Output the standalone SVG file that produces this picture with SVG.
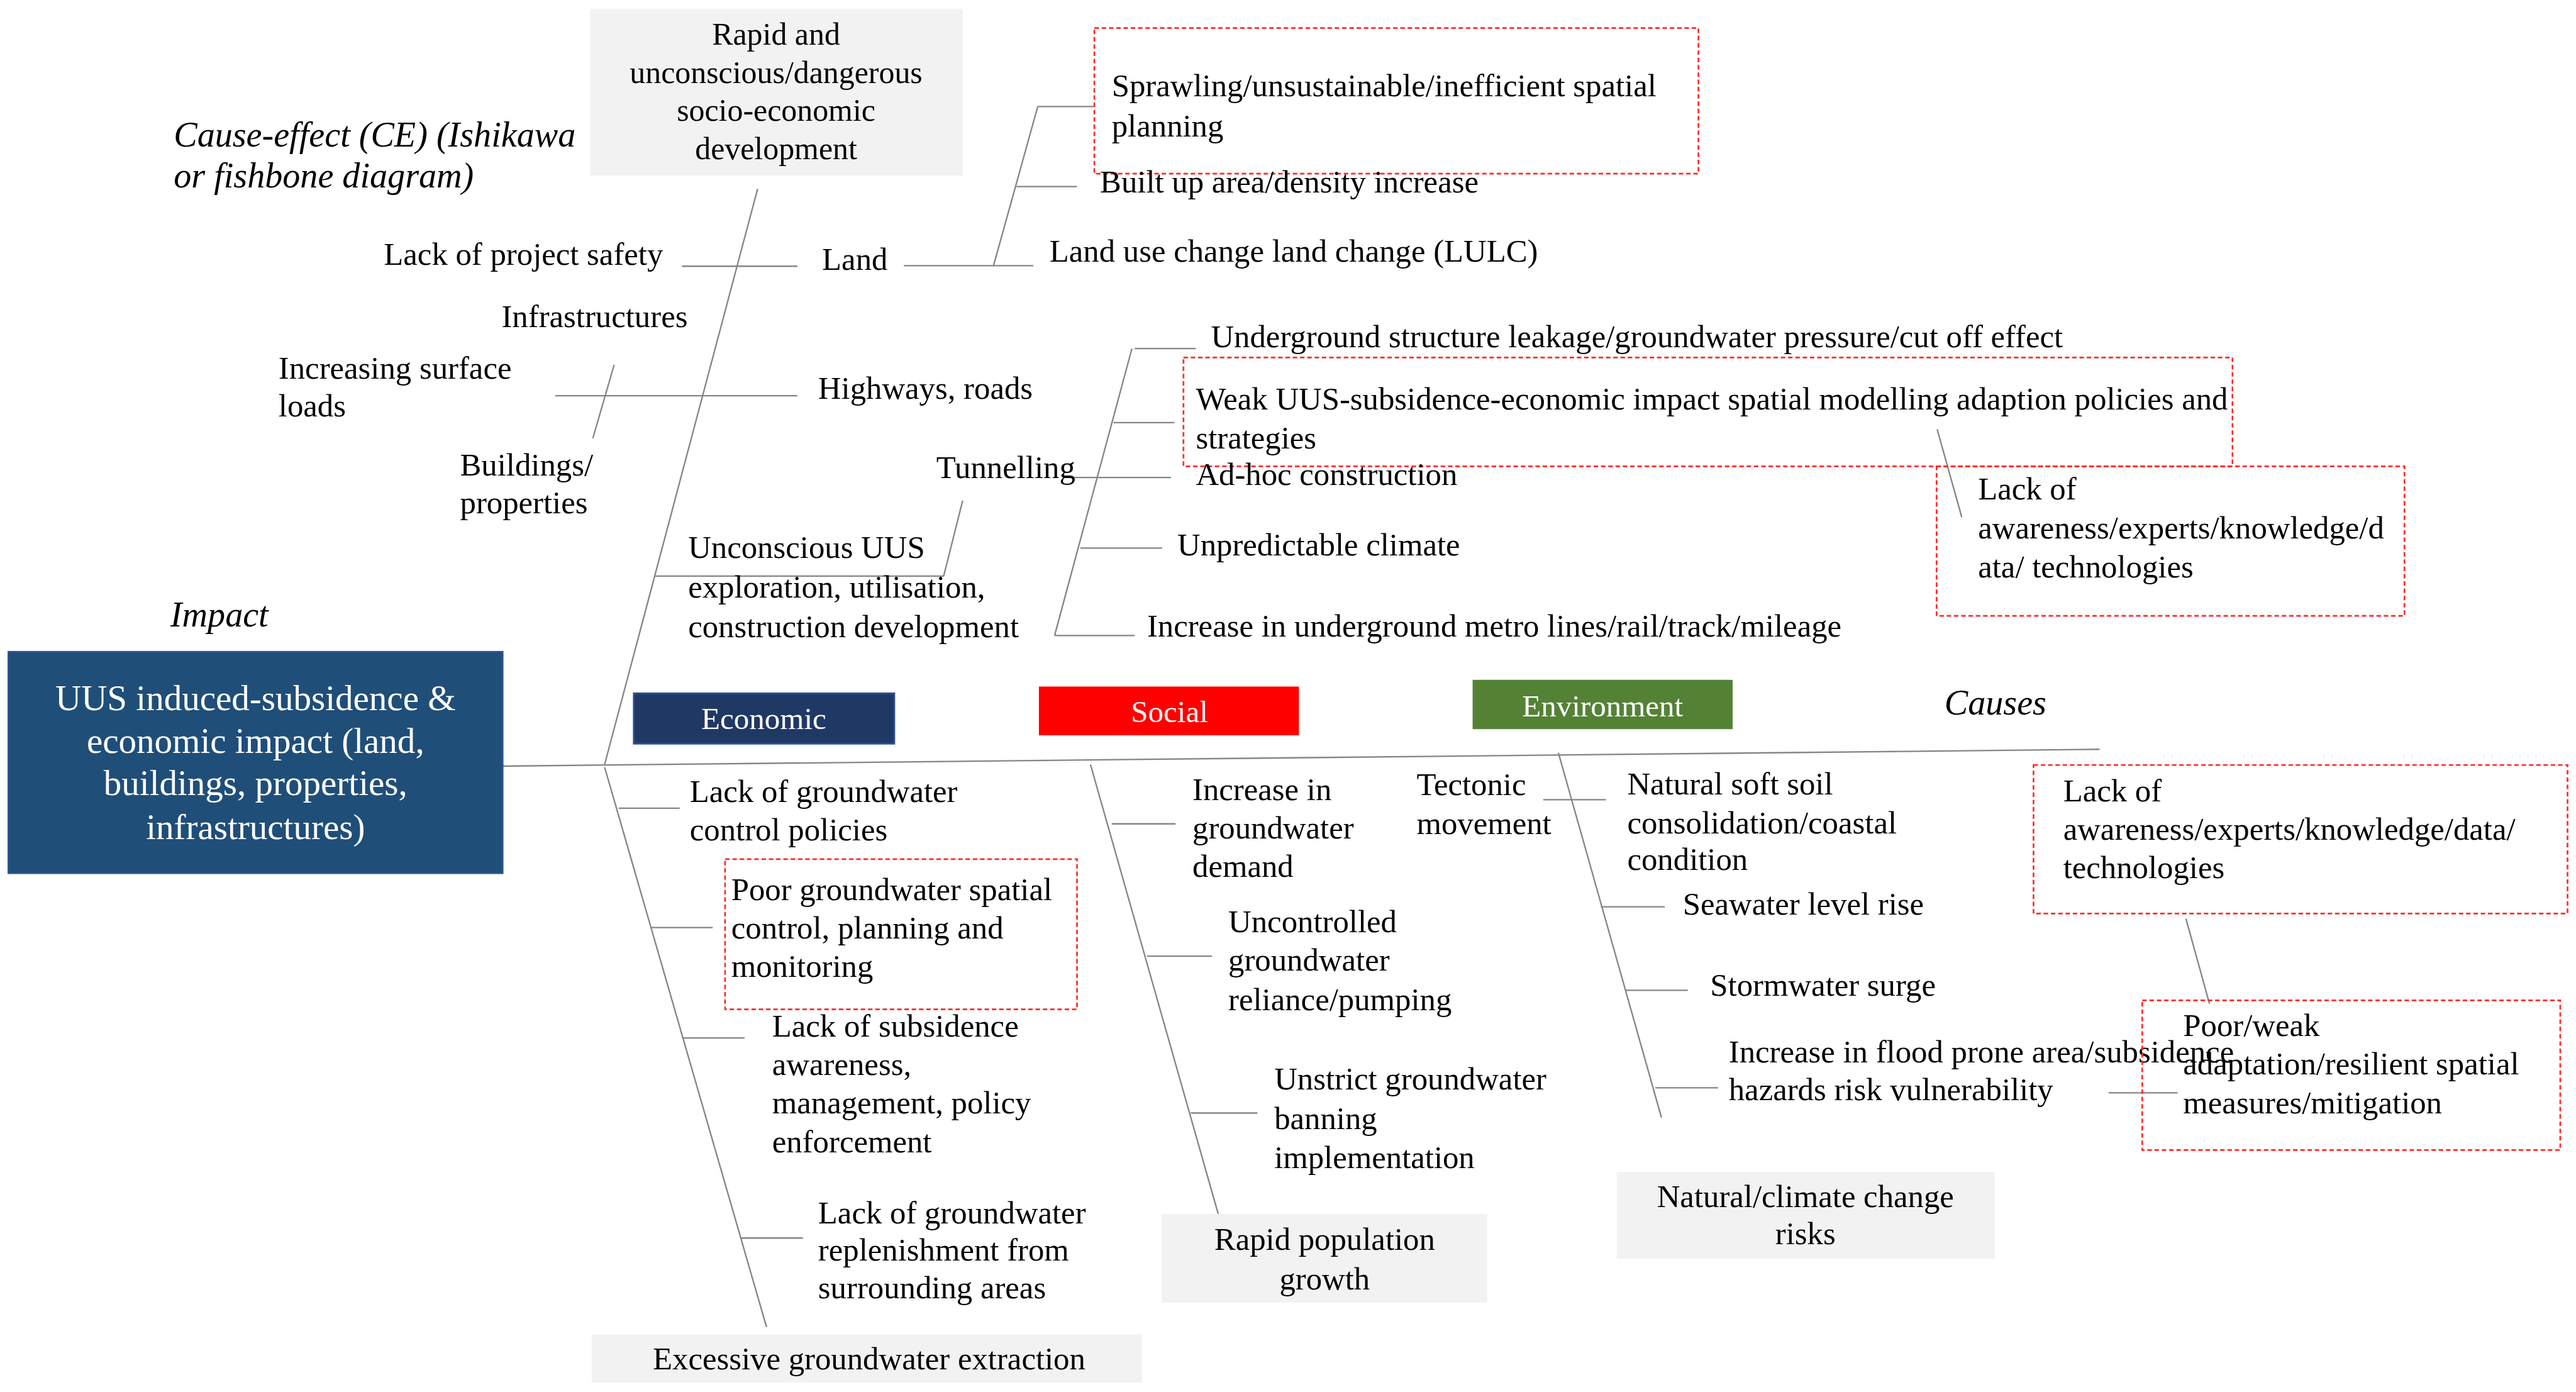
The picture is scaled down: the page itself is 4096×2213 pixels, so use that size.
<svg xmlns="http://www.w3.org/2000/svg" width="4096" height="2213" viewBox="0 0 4096 2213">
<style>
text{font-family:"Liberation Serif","Times New Roman",serif;font-size:57px;fill:#000}
.it{font-style:italic;font-size:63px}
.c{text-anchor:middle}
.w{fill:#fff}
.big{font-size:64px}
.lab{font-size:55px}
.bx{font-size:56px}
.gray{fill:#f2f2f2}
.red{fill:none;stroke:#ff2a2a;stroke-width:3;stroke-dasharray:8 5}
#connectors line{stroke:#858585;stroke-width:2.6;fill:none}
</style>
<rect width="4096" height="2213" fill="#fff"/>
<g transform="scale(0.891)">
<g id="connectors">
<line x1="897" y1="1367" x2="3747" y2="1337"/>
<line x1="1352" y1="337" x2="1079" y2="1364"/>
<line x1="1079" y1="1369" x2="1368" y2="2368"/>
<line x1="1217" y1="475" x2="1423" y2="475"/>
<line x1="1613" y1="474" x2="1844" y2="474"/>
<line x1="1773" y1="474" x2="1852" y2="190"/>
<line x1="1852" y1="190" x2="1953" y2="190"/>
<line x1="1814" y1="333" x2="1922" y2="333"/>
<line x1="991" y1="706" x2="1423" y2="706"/>
<line x1="1096" y1="651" x2="1058" y2="782"/>
<line x1="1168" y1="1028" x2="1684" y2="1028"/>
<line x1="1684" y1="1028" x2="1718" y2="893"/>
<line x1="1917" y1="852" x2="2090" y2="852"/>
<line x1="2020" y1="622" x2="1882" y2="1134"/>
<line x1="2025" y1="622" x2="2134" y2="622"/>
<line x1="1987" y1="754" x2="2096" y2="754"/>
<line x1="1928" y1="978" x2="2074" y2="978"/>
<line x1="1882" y1="1134" x2="2025" y2="1134"/>
<line x1="3457" y1="766" x2="3501" y2="923"/>
<line x1="1104" y1="1442" x2="1213" y2="1442"/>
<line x1="1162" y1="1655" x2="1272" y2="1655"/>
<line x1="1219" y1="1852" x2="1329" y2="1852"/>
<line x1="1322" y1="2209" x2="1433" y2="2209"/>
<line x1="1946" y1="1364" x2="2174" y2="2166"/>
<line x1="1984" y1="1470" x2="2098" y2="1470"/>
<line x1="2047" y1="1706" x2="2163" y2="1706"/>
<line x1="2125" y1="1986" x2="2244" y2="1986"/>
<line x1="2781" y1="1343" x2="2965" y2="1994"/>
<line x1="2754" y1="1427" x2="2866" y2="1427"/>
<line x1="2857" y1="1618" x2="2971" y2="1618"/>
<line x1="2900" y1="1767" x2="3012" y2="1767"/>
<line x1="2954" y1="1941" x2="3066" y2="1941"/>
<line x1="3901" y1="1639" x2="3943" y2="1791"/>
<line x1="3763" y1="1950" x2="3886" y2="1950"/>
</g>

<g id="title"><text class="it" x="310" y="262">Cause-effect (CE) (Ishikawa</text><text class="it" x="310" y="335">or fishbone diagram)</text></g>
<g id="impact-label"><text class="it" x="304" y="1118">Impact</text></g>
<g id="causes-label"><text class="it" x="3470" y="1275">Causes</text></g>

<g id="rapid-dev"><rect class="gray" x="1053" y="16" width="665" height="297"/>
<text class="c bx" x="1385" y="80">Rapid and</text><text class="c bx" x="1385" y="148">unconscious/dangerous</text><text class="c bx" x="1385" y="216">socio-economic</text><text class="c bx" x="1385" y="284">development</text></g>

<g id="impact"><rect x="15" y="1163" width="882" height="395" fill="#1f4e79" stroke="#2f528f" stroke-width="3"/>
<text class="c w big" x="456" y="1267">UUS induced-subsidence &amp;</text><text class="c w big" x="456" y="1343">economic impact (land,</text><text class="c w big" x="456" y="1419">buildings, properties,</text><text class="c w big" x="456" y="1497">infrastructures)</text></g>

<g id="economic"><rect x="1131" y="1237" width="465" height="90" fill="#203864" stroke="#2f528f" stroke-width="3"/><text class="c w lab" x="1363" y="1301">Economic</text></g>
<g id="social"><rect x="1854" y="1225" width="464" height="87" fill="#ff0000"/><text class="c w lab" x="2087" y="1288">Social</text></g>
<g id="environment"><rect x="2628" y="1213" width="464" height="88" fill="#548235"/><text class="c w lab" x="2860" y="1278">Environment</text></g>

<g id="lack-safety"><text x="685" y="473">Lack of project safety</text></g>
<g id="land"><text x="1467" y="482">Land</text></g>
<g id="infrastructures"><text x="895" y="584">Infrastructures</text></g>
<g id="surface-loads"><text x="497" y="676">Increasing surface</text><text x="497" y="743">loads</text></g>
<g id="highways"><text x="1460" y="711">Highways, roads</text></g>
<g id="buildings"><text x="821" y="849">Buildings/</text><text x="821" y="916">properties</text></g>
<g id="unconscious-uus"><text x="1228" y="996">Unconscious UUS</text><text x="1228" y="1066">exploration, utilisation,</text><text x="1228" y="1137">construction development</text></g>
<g id="tunnelling"><text x="1671" y="853">Tunnelling</text></g>

<g id="sprawling"><rect class="red" x="1953" y="50" width="1078" height="260"/><text x="1984" y="172">Sprawling/unsustainable/inefficient spatial</text><text x="1984" y="243">planning</text></g>
<g id="built-up"><text x="1963" y="343">Built up area/density increase</text></g>
<g id="lulc"><text x="1873" y="467">Land use change land change (LULC)</text></g>
<g id="leakage"><text x="2161" y="620">Underground structure leakage/groundwater pressure/cut off effect</text></g>
<g id="weak-uus"><rect class="red" x="2112" y="638" width="1872" height="194"/><text x="2134" y="731">Weak UUS-subsidence-economic impact spatial modelling adaption policies and</text><text x="2134" y="800">strategies</text></g>
<g id="adhoc"><text x="2134" y="865">Ad-hoc construction</text></g>
<g id="climate"><text x="2101" y="991">Unpredictable climate</text></g>
<g id="metro"><text x="2047" y="1136">Increase in underground metro lines/rail/track/mileage</text></g>
<g id="lack-awareness-1"><rect class="red" x="3456" y="832" width="835" height="267"/><text x="3530" y="891">Lack of</text><text x="3530" y="961">awareness/experts/knowledge/d</text><text x="3530" y="1030">ata/ technologies</text></g>

<g id="gw-policies"><text x="1231" y="1431">Lack of groundwater</text><text x="1231" y="1499">control policies</text></g>
<g id="gw-spatial"><rect class="red" x="1294" y="1533" width="628" height="268"/><text x="1305" y="1606">Poor groundwater spatial</text><text x="1305" y="1674">control, planning and</text><text x="1305" y="1743">monitoring</text></g>
<g id="subsidence-awareness"><text x="1378" y="1850">Lack of subsidence</text><text x="1378" y="1918">awareness,</text><text x="1378" y="1987">management, policy</text><text x="1378" y="2056">enforcement</text></g>
<g id="replenishment"><text x="1460" y="2183">Lack of groundwater</text><text x="1460" y="2249">replenishment from</text><text x="1460" y="2316">surrounding areas</text></g>
<g id="extraction"><rect class="gray" x="1056" y="2381" width="982" height="86"/><text x="1165" y="2443">Excessive groundwater extraction</text></g>

<g id="gw-demand"><text x="2128" y="1428">Increase in</text><text x="2128" y="1496">groundwater</text><text x="2128" y="1564">demand</text></g>
<g id="gw-pumping"><text x="2192" y="1663">Uncontrolled</text><text x="2192" y="1732">groundwater</text><text x="2192" y="1802">reliance/pumping</text></g>
<g id="gw-banning"><text x="2274" y="1944">Unstrict groundwater</text><text x="2274" y="2015">banning</text><text x="2274" y="2084">implementation</text></g>
<g id="population"><rect class="gray" x="2073" y="2166" width="581" height="158"/><text class="c" x="2364" y="2230">Rapid population</text><text class="c" x="2364" y="2301">growth</text></g>

<g id="tectonic"><text x="2528" y="1419">Tectonic</text><text x="2528" y="1488">movement</text></g>
<g id="soft-soil"><text x="2904" y="1417">Natural soft soil</text><text x="2904" y="1487">consolidation/coastal</text><text x="2904" y="1552">condition</text></g>
<g id="seawater"><text x="3003" y="1632">Seawater level rise</text></g>
<g id="stormwater"><text x="3052" y="1777">Stormwater surge</text></g>
<g id="flood"><text x="3085" y="1896">Increase in flood prone area/subsidence</text><text x="3085" y="1963">hazards risk vulnerability</text></g>
<g id="natural-risks"><rect class="gray" x="2885" y="2091" width="675" height="155"/><text class="c" x="3222" y="2154">Natural/climate change</text><text class="c" x="3222" y="2220">risks</text></g>

<g id="lack-awareness-2"><rect class="red" x="3629" y="1365" width="953" height="265"/><text x="3682" y="1430">Lack of</text><text x="3682" y="1498">awareness/experts/knowledge/data/</text><text x="3682" y="1567">technologies</text></g>
<g id="adaptation"><rect class="red" x="3823" y="1785" width="746" height="267"/><text x="3896" y="1849">Poor/weak</text><text x="3896" y="1917">adaptation/resilient spatial</text><text x="3896" y="1986">measures/mitigation</text></g>
</g>
</svg>
